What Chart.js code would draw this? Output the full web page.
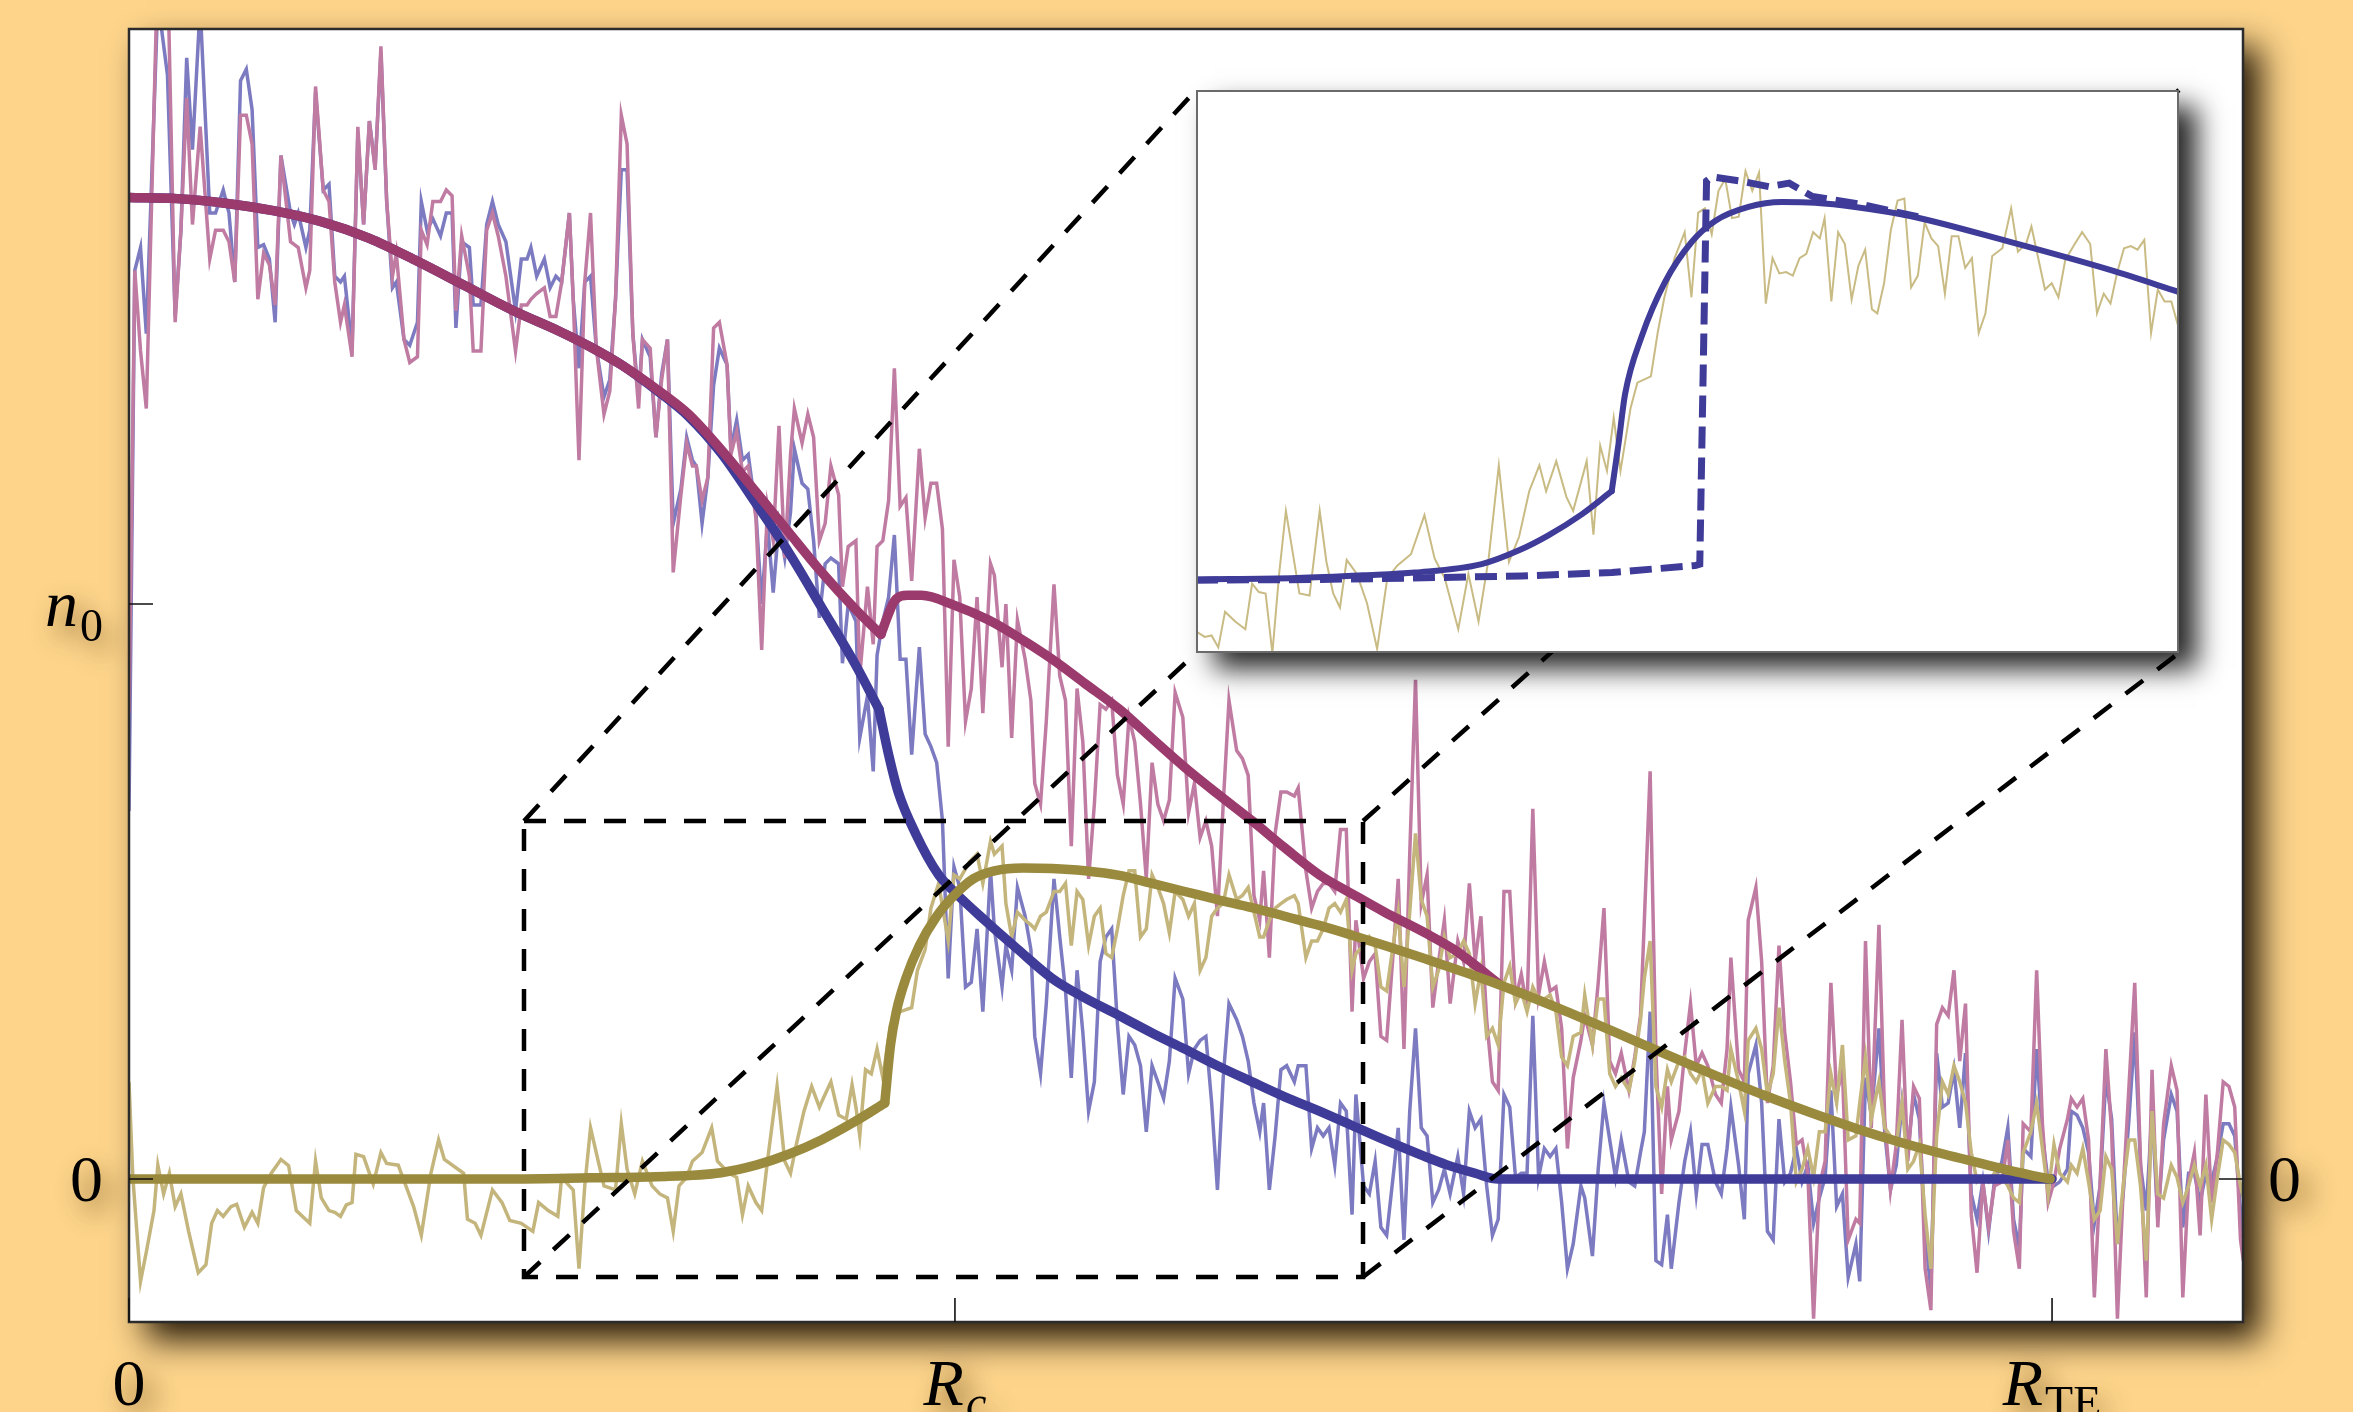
<!DOCTYPE html>
<html lang="en">
<head>
<meta charset="utf-8">
<title>Density profiles</title>
<script src="https://cdn.jsdelivr.net/npm/chart.js@4.4.1/dist/chart.umd.min.js"></script>
<style>
    html, body { margin: 0; padding: 0; background: #fdd48a; }
    #stage { position: relative; width: 2353px; height: 1412px; overflow: hidden; background: #fdd48a; }
    #mainChart { position: absolute; left: 0; top: 0; }
    #insetWrap { position: absolute; background: #fff; box-shadow: 18px 16px 26px rgba(0,0,0,0.85); }
    #insetChart { display: block; }
</style>
</head>
<body>
<div id="stage">
    <canvas id="mainChart" width="2353" height="1412"></canvas>
    <div id="insetWrap"><canvas id="insetChart"></canvas></div>
</div>
<script>
// radius in units of R_TE, densities in units of n0
const xTickValues = [0, 0.4295, 1];
const xTickLabels = ['0', 'R_c', 'R_TE'];
const yTickValues = [0, 1];
const yTickLabels = ['0', 'n_0'];
const rightTickValues = [0];
const rightTickLabels = ['0'];

const xRange = [0, 1.0993];
const yRange = [-0.2487, 2.0];
const zoomBoxX = [0.2054, 0.6417];
const zoomBoxY = [-0.1704, 0.6226];
const insetBoxX = [0.5549, 1.0660];
const insetBoxY = [0.9148, 1.8939];
const insetYRange = [-0.104, 0.700];

// smooth profiles (kink = index of the sharp corner near R_c)
const pinkCurveX = [0, 0.025, 0.05, 0.075, 0.10, 0.125, 0.15, 0.175, 0.20, 0.224, 0.24, 0.256, 0.275, 0.291, 0.308, 0.326, 0.343, 0.360, 0.378, 0.391, 0.395, 0.398, 0.405, 0.412, 0.429, 0.447, 0.462, 0.480, 0.497, 0.515, 0.532, 0.549, 0.566, 0.584, 0.601, 0.619, 0.636, 0.653, 0.674, 0.690, 0.712];
const pinkCurveY = [1.707, 1.705, 1.697, 1.684, 1.665, 1.636, 1.596, 1.553, 1.510, 1.474, 1.447, 1.416, 1.372, 1.330, 1.268, 1.195, 1.125, 1.056, 0.990, 0.947, 0.983, 1.005, 1.015, 1.015, 0.998, 0.972, 0.943, 0.904, 0.862, 0.817, 0.766, 0.716, 0.670, 0.623, 0.576, 0.529, 0.496, 0.464, 0.428, 0.397, 0.340];
const pinkKink = 19;

const blueCurveX = [0, 0.025, 0.05, 0.075, 0.10, 0.125, 0.15, 0.175, 0.20, 0.224, 0.24, 0.256, 0.275, 0.291, 0.308, 0.326, 0.343, 0.360, 0.378, 0.390, 0.395, 0.400, 0.409, 0.421, 0.429, 0.445, 0.462, 0.480, 0.497, 0.515, 0.532, 0.549, 0.566, 0.584, 0.601, 0.619, 0.636, 0.653, 0.674, 0.685, 0.700, 0.712, 1.0];
const blueCurveY = [1.707, 1.705, 1.697, 1.684, 1.665, 1.636, 1.596, 1.553, 1.510, 1.474, 1.447, 1.416, 1.370, 1.326, 1.262, 1.175, 1.090, 0.995, 0.893, 0.817, 0.738, 0.673, 0.601, 0.529, 0.500, 0.450, 0.400, 0.349, 0.315, 0.284, 0.254, 0.226, 0.197, 0.169, 0.143, 0.118, 0.093, 0.068, 0.039, 0.025, 0.010, 0.0, 0.0];
const blueKink = 19;

const oliveCurveX = [0, 0.20, 0.24, 0.274, 0.308, 0.326, 0.343, 0.360, 0.378, 0.393, 0.396, 0.399, 0.404, 0.411, 0.420, 0.429, 0.439, 0.450, 0.465, 0.480, 0.497, 0.515, 0.532, 0.549, 0.566, 0.584, 0.601, 0.619, 0.636, 0.655, 0.674, 0.695, 0.721, 0.747, 0.773, 0.799, 0.825, 0.850, 0.874, 0.898, 0.921, 0.944, 0.962, 0.979, 0.990, 0.999];
const oliveCurveY = [0, 0, 0.002, 0.004, 0.011, 0.024, 0.043, 0.068, 0.101, 0.132, 0.233, 0.291, 0.349, 0.406, 0.457, 0.493, 0.522, 0.536, 0.541, 0.540, 0.536, 0.528, 0.514, 0.500, 0.486, 0.472, 0.457, 0.441, 0.424, 0.404, 0.383, 0.359, 0.327, 0.292, 0.255, 0.217, 0.180, 0.146, 0.116, 0.088, 0.064, 0.043, 0.028, 0.014, 0.006, 0.0];
const oliveKink = 9;

// noisy simulation profiles (pink and blue share the sample positions)
const noiseX = [
    0.000, 0.003, 0.006, 0.009, 0.015, 0.020, 0.024, 0.027, 0.030, 0.033, 0.037, 0.042, 0.045, 0.049, 0.052, 0.055, 0.058, 0.061, 0.064, 0.067,
    0.070, 0.073, 0.076, 0.079, 0.084, 0.086, 0.088, 0.092, 0.094, 0.097, 0.101, 0.104, 0.107, 0.110, 0.112, 0.116, 0.119, 0.122, 0.125, 0.128,
    0.131, 0.134, 0.137, 0.139, 0.143, 0.146, 0.150, 0.152, 0.155, 0.158, 0.162, 0.165, 0.168, 0.170, 0.173, 0.177, 0.179, 0.183, 0.186, 0.189,
    0.192, 0.196, 0.201, 0.204, 0.207, 0.209, 0.212, 0.216, 0.219,
    0.222, 0.225, 0.229, 0.231, 0.234, 0.237, 0.240, 0.243, 0.247, 0.250, 0.253, 0.256, 0.259, 0.262, 0.265, 0.267, 0.271, 0.274, 0.277, 0.280,
    0.283, 0.287, 0.290, 0.293, 0.295, 0.298, 0.301, 0.304, 0.307, 0.311, 0.313, 0.316, 0.319, 0.322, 0.326, 0.329, 0.332, 0.335, 0.338, 0.341,
    0.344, 0.346, 0.350, 0.353, 0.356, 0.359, 0.362, 0.365, 0.369, 0.371, 0.374, 0.378, 0.380, 0.384, 0.387, 0.389, 0.392, 0.395, 0.398, 0.401,
    0.404, 0.407, 0.411, 0.414, 0.417, 0.420, 0.423, 0.426, 0.429, 0.432, 0.435, 0.438, 0.441, 0.444,
    0.448, 0.450, 0.454, 0.456, 0.459, 0.462, 0.466, 0.469, 0.471, 0.474, 0.477, 0.481, 0.484, 0.487, 0.490, 0.493, 0.496, 0.499, 0.502, 0.505,
    0.508, 0.511, 0.514, 0.517, 0.520, 0.523, 0.526, 0.529, 0.532, 0.535, 0.538, 0.541, 0.544, 0.548, 0.551, 0.554, 0.557, 0.560, 0.563, 0.566,
    0.569, 0.572, 0.576, 0.579, 0.582, 0.585, 0.588, 0.590, 0.593, 0.596, 0.599, 0.602, 0.606, 0.608, 0.612, 0.615, 0.618, 0.621, 0.624, 0.627,
    0.630, 0.633, 0.636, 0.638, 0.642, 0.645, 0.648, 0.651, 0.654, 0.658, 0.660, 0.663, 0.666, 0.669, 0.672,
    0.675, 0.678, 0.681, 0.684, 0.687, 0.691, 0.694, 0.697, 0.700, 0.703, 0.706, 0.709, 0.712, 0.715, 0.718, 0.721, 0.724, 0.727, 0.730, 0.733,
    0.736, 0.739, 0.742, 0.745, 0.748, 0.751, 0.755, 0.757, 0.761, 0.764, 0.767, 0.770, 0.773, 0.776, 0.780, 0.783, 0.786, 0.788, 0.791, 0.794,
    0.797, 0.800, 0.802, 0.806, 0.809, 0.812, 0.815, 0.818, 0.821, 0.825, 0.828, 0.831, 0.833, 0.837, 0.840, 0.842, 0.846, 0.849, 0.852, 0.855,
    0.858, 0.861, 0.864, 0.867, 0.870, 0.873, 0.876, 0.879, 0.882, 0.885, 0.888, 0.891, 0.894,
    0.898, 0.900, 0.903, 0.906, 0.910, 0.913, 0.916, 0.919, 0.922, 0.925, 0.928, 0.931, 0.934, 0.937, 0.940, 0.943, 0.946, 0.949, 0.952, 0.955,
    0.958, 0.961, 0.964, 0.967, 0.970, 0.974, 0.977, 0.980, 0.983, 0.985, 0.989, 0.992, 0.995, 0.998, 1.001, 1.004, 1.008, 1.010, 1.013, 1.016,
    1.019, 1.022, 1.025, 1.028, 1.031, 1.034, 1.037, 1.040, 1.043, 1.046, 1.049, 1.052, 1.055, 1.058, 1.062, 1.065, 1.068, 1.071, 1.074, 1.077,
    1.080, 1.083, 1.086, 1.089, 1.092, 1.095, 1.098, 1.0995
];

const pinkNoise = [
    0.81, 1.58, 1.44, 1.34, 2.12, 2.12, 1.49, 1.65, 1.88, 1.66, 1.83, 1.60, 1.65, 1.65, 1.63, 1.56, 1.85, 1.85, 1.80, 1.53,
    1.61, 1.59, 1.52, 1.78, 1.63, 1.625, 1.62, 1.55, 1.58, 1.90, 1.72, 1.70, 1.56, 1.49, 1.52, 1.43, 1.83, 1.66, 1.84, 1.755,
    1.97, 1.70, 1.57, 1.61, 1.46, 1.42, 1.43, 1.65, 1.625, 1.70, 1.70, 1.72, 1.71, 1.51, 1.64, 1.57, 1.44, 1.44, 1.65, 1.68,
    1.64, 1.57, 1.44, 1.52, 1.52, 1.53, 1.54, 1.55, 1.50,
    1.50, 1.56, 1.68, 1.53, 1.25, 1.56, 1.68, 1.445, 1.33, 1.37, 1.53, 1.85, 1.80, 1.47, 1.34, 1.46, 1.445, 1.29, 1.39, 1.46,
    1.055, 1.19, 1.28, 1.24, 1.24, 1.18, 1.22, 1.48, 1.49, 1.416, 1.26, 1.30, 1.23, 1.24, 1.15, 0.92, 1.17, 1.11, 1.31, 1.08,
    1.26, 1.34, 1.28, 1.33, 1.29, 1.11, 1.14, 1.24, 1.19, 1.03, 1.10, 1.11, 0.875, 1.03, 0.93, 1.10, 1.11, 1.18, 1.41, 1.17,
    1.185, 1.04, 1.27, 1.15, 1.21, 1.21, 1.13, 0.752, 1.077, 1.012, 0.796, 0.853, 1.012, 0.81,
    1.07, 1.05, 0.89, 1.00, 0.767, 0.972, 0.904, 0.832, 0.688, 0.652, 0.796, 1.034, 0.875, 0.832, 0.579, 0.853, 0.760, 0.522, 0.652, 0.825,
    0.817, 0.832, 0.702, 0.652, 0.803, 0.760, 0.652, 0.522, 0.724, 0.652, 0.623, 0.659, 0.846, 0.803, 0.637, 0.688, 0.594, 0.623, 0.579, 0.457,
    0.652, 0.832, 0.745, 0.731, 0.702, 0.493, 0.450, 0.536, 0.385, 0.601, 0.673, 0.673, 0.666, 0.680, 0.536, 0.471, 0.500, 0.514, 0.514, 0.500,
    0.608, 0.608, 0.291, 0.450, 0.349, 0.378, 0.392, 0.248, 0.241, 0.421, 0.522, 0.226, 0.565, 0.868, 0.479,
    0.529, 0.298, 0.378, 0.450, 0.305, 0.414, 0.378, 0.514, 0.378, 0.457, 0.277, 0.169, 0.154, 0.500, 0.500, 0.313, 0.356, 0.298, 0.644, 0.320,
    0.378, 0.327, 0.334, 0.262, 0.053, 0.176, 0.241, 0.284, 0.233, 0.341, 0.471, 0.205, 0.183, 0.219, 0.154, 0.212, 0.284, 0.45, 0.709, 0.219,
    -0.026, 0.161, 0.068, 0.118, 0.219, 0.305, 0.197, 0.219, 0.197, 0.147, 0.132, 0.226, 0.385, 0.190, 0.169, 0.450, 0.507, 0.378, 0.132, 0.197,
    0.406, 0.255, 0.169, 0.060, 0.068, 0.010, -0.243, -0.012, 0.031, 0.341, 0.147, 0.190, -0.106,
    -0.070, -0.077, 0.414, 0.089, 0.442, 0.104, -0.019, 0.060, 0.277, 0.031, 0.161, 0.140, -0.156, -0.228, 0.269, 0.298, 0.284, 0.363, 0.205, 0.305,
    -0.062, -0.163, -0.005, -0.084, -0.012, -0.005, 0.068, -0.091, -0.156, 0.096, 0.082, 0.363, 0.096, -0.041, -0.005, 0.053, 0.104, 0.140, 0.125, 0.140,
    0.068, -0.206, -0.005, 0.226, 0.082, -0.243, -0.019, 0.161, 0.341, 0.031, -0.206, 0.190, -0.084, 0.096, 0.197, 0.154, -0.206, -0.005, 0.046, -0.098,
    0.147, -0.041, 0.046, 0.169, 0.161, 0.125, -0.106, -0.142
];

const blueNoise = [
    0.64, 1.58, 1.62, 1.47, 2.05, 1.92, 1.50, 1.65, 1.95, 1.79, 2.04, 1.68, 1.68, 1.72, 1.68, 1.56, 1.91, 1.93, 1.86, 1.62,
    1.625, 1.60, 1.49, 1.78, 1.68, 1.66, 1.68, 1.62, 1.65, 1.89, 1.72, 1.73, 1.57, 1.56, 1.57, 1.445, 1.82, 1.66, 1.84, 1.76,
    1.96, 1.70, 1.55, 1.56, 1.46, 1.45, 1.49, 1.70, 1.65, 1.67, 1.64, 1.68, 1.68, 1.48, 1.63, 1.62, 1.52, 1.52, 1.66, 1.70,
    1.66, 1.63, 1.51, 1.60, 1.60, 1.62, 1.57, 1.60, 1.55,
    1.57, 1.56, 1.68, 1.53, 1.41, 1.56, 1.57, 1.445, 1.36, 1.39, 1.53, 1.755, 1.755, 1.47, 1.36, 1.46, 1.43, 1.29, 1.40, 1.46,
    1.14, 1.20, 1.29, 1.25, 1.24, 1.14, 1.22, 1.38, 1.445, 1.416, 1.27, 1.32, 1.25, 1.26, 1.16, 1.00, 1.14, 1.02, 1.14, 1.08,
    1.16, 1.27, 1.21, 1.20, 1.11, 0.976, 1.07, 1.08, 1.07, 0.897, 1.00, 0.97, 0.767, 0.84, 0.709, 0.911, 0.97, 1.012, 1.12, 0.904,
    0.904, 0.738, 0.925, 0.774, 0.752, 0.724, 0.623, 0.349, 0.543, 0.507, 0.334, 0.342, 0.435, 0.291,
    0.536, 0.435, 0.334, 0.406, 0.363, 0.507, 0.457, 0.399, 0.248, 0.183, 0.305, 0.522, 0.421, 0.327, 0.176, 0.363, 0.255, 0.118, 0.169, 0.378,
    0.421, 0.435, 0.269, 0.147, 0.248, 0.233, 0.197, 0.082, 0.197, 0.169, 0.140, 0.205, 0.349, 0.313, 0.183, 0.226, 0.241, 0.248, 0.132, -0.019,
    0.176, 0.305, 0.277, 0.248, 0.205, 0.132, 0.082, 0.132, -0.019, 0.075, 0.190, 0.197, 0.169, 0.197, 0.197, 0.053, 0.089, 0.075, 0.089, 0.024,
    0.132, 0.118, -0.062, 0.147, -0.012, -0.026, 0.031, -0.084, -0.098, 0.024, 0.089, -0.106, 0.118, 0.262, 0.089,
    0.075, -0.041, -0.019, 0.017, -0.026, 0.039, -0.026, 0.118, 0.089, 0.104, -0.012, -0.098, -0.070, 0.147, 0.125, 0.003, 0.010, 0.010, 0.284, 0.003,
    0.053, 0.039, 0.053, -0.041, -0.156, -0.113, -0.012, -0.033, -0.134, 0.017, 0.132, 0.068, 0.003, 0.068, -0.005, -0.012, 0.046, 0.082, 0.291, -0.142,
    -0.149, -0.062, -0.156, -0.041, 0.031, 0.082, -0.026, 0.060, 0.060, -0.005, -0.026, 0.053, 0.125, 0.024, -0.070, 0.183, 0.233, 0.132, -0.091, -0.106,
    0.104, -0.005, 0.010, 0.053, -0.005, 0.024, -0.077, -0.033, 0.003, 0.154, -0.048, -0.026, -0.171,
    -0.113, -0.178, 0.176, 0.111, 0.262, 0.082, -0.019, 0.024, 0.132, 0.046, 0.147, 0.104, -0.098, -0.192, 0.219, 0.125, 0.132, 0.190, 0.089, 0.219,
    -0.026, -0.070, -0.005, -0.091, -0.005, 0.031, 0.089, -0.070, -0.120, 0.053, 0.039, 0.226, 0.075, -0.005, -0.012, -0.005, 0.017, 0.118, 0.111, 0.089,
    0.046, -0.077, -0.012, 0.176, 0.104, -0.113, -0.026, 0.104, 0.255, 0.024, -0.055, 0.118, -0.070, 0.068, 0.147, 0.118, -0.084, 0.010, 0.010, -0.041,
    0.010, -0.005, 0.039, 0.096, 0.096, 0.075, -0.055, -0.098
];

// olive noise: own samples inside the core, shared samples (noiseX >= 0.447) outside
const oliveInnerX = [
    0.000, 0.002, 0.006, 0.009, 0.013, 0.015, 0.018, 0.021, 0.024, 0.027, 0.031, 0.036, 0.040, 0.043, 0.046, 0.049, 0.053, 0.056, 0.060, 0.064,
    0.067, 0.070, 0.074, 0.079, 0.083, 0.087, 0.094, 0.097, 0.100, 0.104, 0.107, 0.110, 0.113, 0.116, 0.118, 0.122, 0.127, 0.131, 0.134, 0.140,
    0.144, 0.148, 0.152, 0.157, 0.161, 0.164, 0.174, 0.176, 0.180, 0.183, 0.189, 0.194, 0.198, 0.204, 0.210, 0.213, 0.218, 0.223,
    0.225, 0.229, 0.231, 0.234, 0.237, 0.240, 0.244, 0.247, 0.253, 0.256, 0.259, 0.263, 0.267, 0.272, 0.276, 0.280, 0.283, 0.286, 0.290, 0.293,
    0.298, 0.303, 0.306, 0.312, 0.316, 0.319, 0.322, 0.326, 0.329, 0.332, 0.337, 0.341, 0.344, 0.347, 0.351, 0.355, 0.359, 0.361, 0.365, 0.369,
    0.373, 0.376, 0.378, 0.380, 0.383, 0.386, 0.389, 0.392, 0.396, 0.401, 0.407, 0.410, 0.414, 0.417, 0.421, 0.426, 0.429, 0.432, 0.437, 0.441, 0.444
];
const oliveInnerY = [
    0.168, 0.003, -0.178, -0.127, -0.055, 0.024, -0.026, 0.010, -0.048, -0.026, -0.091, -0.163, -0.149, -0.077, -0.055, -0.065, -0.048, -0.044, -0.084, -0.058,
    -0.077, -0.015, 0.010, 0.034, 0.023, -0.055, -0.077, 0.031, -0.033, -0.055, -0.058, -0.065, -0.045, -0.041, 0.043, 0.039, -0.009, 0.046, 0.027, 0.024,
    -0.012, -0.048, -0.098, 0.010, 0.068, 0.034, 0.010, -0.070, -0.077, -0.098, -0.019, -0.041, -0.072, -0.077, -0.091, -0.041, -0.055, -0.065,
    0.003, -0.012, -0.019, -0.156, -0.012, 0.089, 0.031, -0.012, -0.019, 0.096, 0.017, -0.026, 0.031, -0.012, -0.026, -0.033, -0.091, -0.012, 0.003, 0.031,
    0.046, 0.089, 0.031, 0.010, 0.003, -0.062, -0.012, -0.041, -0.055, 0.031, 0.161, 0.031, 0.010, 0.060, 0.118, 0.161, 0.125, 0.140, 0.169, 0.111,
    0.104, 0.164, 0.125, 0.075, 0.190, 0.183, 0.226, 0.176, 0.269, 0.291, 0.298, 0.363, 0.399, 0.471, 0.514, 0.414, 0.529, 0.522, 0.551, 0.565, 0.514
];
const oliveOuterY = [
    0.587, 0.565, 0.579, 0.479, 0.421, 0.464, 0.450, 0.442, 0.435, 0.457, 0.464, 0.500, 0.500, 0.514, 0.406, 0.500, 0.486, 0.406, 0.457, 0.471,
    0.392, 0.385, 0.435, 0.493, 0.536, 0.536, 0.421, 0.435, 0.529, 0.507, 0.479, 0.428, 0.500, 0.486, 0.457, 0.479, 0.363, 0.385, 0.457, 0.471,
    0.479, 0.529, 0.486, 0.493, 0.507, 0.464, 0.421, 0.421, 0.450, 0.471, 0.479, 0.486, 0.493, 0.479, 0.385, 0.414, 0.414, 0.435, 0.471, 0.479,
    0.464, 0.486, 0.363, 0.392, 0.406, 0.421, 0.406, 0.334, 0.327, 0.421, 0.464, 0.334, 0.464, 0.601, 0.486,
    0.457, 0.334, 0.363, 0.421, 0.385, 0.392, 0.414, 0.392, 0.305, 0.363, 0.248, 0.262, 0.233, 0.341, 0.370, 0.305, 0.327, 0.291, 0.334, 0.313,
    0.313, 0.320, 0.291, 0.212, 0.197, 0.248, 0.255, 0.320, 0.233, 0.313, 0.313, 0.183, 0.161, 0.176, 0.154, 0.205, 0.277, 0.349, 0.414, 0.161,
    0.125, 0.190, 0.169, 0.205, 0.212, 0.183, 0.169, 0.190, 0.132, 0.161, 0.161, 0.154, 0.226, 0.169, 0.118, 0.241, 0.262, 0.226, 0.147, 0.183,
    0.298, 0.205, 0.132, -0.005, 0.017, 0.053, 0.003, 0.082, 0.082, 0.183, 0.132, 0.233, 0.068,
    0.075, 0.132, 0.212, 0.104, 0.169, 0.089, 0.075, 0.060, 0.132, 0.017, 0.031, 0.060, -0.062, -0.156, 0.075, 0.169, 0.147, 0.197, 0.169, 0.132,
    0.046, -0.005, 0.003, -0.005, 0.010, 0.003, -0.012, -0.033, -0.041, 0.046, 0.082, 0.132, 0.053, -0.026, 0.060, 0.010, -0.005, 0.024, 0.010, 0.053,
    -0.005, -0.070, -0.055, 0.039, 0.017, -0.113, -0.012, 0.068, 0.068, -0.012, -0.142, 0.118, -0.026, -0.033, 0.024, 0.003, -0.041, -0.012, 0.024, -0.012,
    0.024, -0.070, 0.003, 0.068, 0.060, 0.046, -0.012, -0.033
];

// inset (zoom on the olive component)
const insetSolidX = [0.2054, 0.25, 0.28, 0.3026, 0.3322, 0.3490, 0.3618, 0.3766, 0.3899, 0.3929, 0.3958, 0.4032, 0.4136, 0.4254, 0.4358, 0.4506, 0.4654, 0.4801, 0.4979, 0.5223, 0.5667, 0.6111, 0.6422];
const insetSolidY = [0.001, 0.003, 0.007, 0.011, 0.023, 0.043, 0.064, 0.094, 0.127, 0.194, 0.265, 0.348, 0.426, 0.483, 0.513, 0.533, 0.540, 0.539, 0.533, 0.520, 0.483, 0.443, 0.411];
const insetSolidKink = 8;
const insetDashedX = [0.2054, 0.26, 0.30, 0.35, 0.39, 0.427, 0.429, 0.432, 0.4343, 0.447, 0.4597, 0.4687, 0.479, 0.50, 0.5288];
const insetDashedY = [0.000, 0.001, 0.003, 0.006, 0.011, 0.021, 0.023, 0.570, 0.576, 0.570, 0.562, 0.567, 0.548, 0.537, 0.517];
const insetNoiseX = [
    0.2054, 0.2093, 0.2123, 0.2153, 0.2183, 0.2228, 0.2273, 0.2303, 0.2333, 0.2363, 0.2393, 0.2423, 0.2453, 0.2513, 0.2558, 0.2603, 0.2633, 0.2663, 0.2693, 0.2723,
    0.2768, 0.2813, 0.2858, 0.2903, 0.2948, 0.3008, 0.3068, 0.3113, 0.3158, 0.3218, 0.3263, 0.3308, 0.3353, 0.3398, 0.3443, 0.3488, 0.3533, 0.3578, 0.3608, 0.3653,
    0.3698, 0.3728, 0.3788, 0.3818, 0.3848, 0.3878, 0.3908, 0.3938, 0.3983, 0.4013, 0.4073, 0.4103, 0.4133, 0.4178, 0.4223, 0.4253, 0.4283, 0.4313, 0.4343, 0.4373,
    0.4403, 0.4433, 0.4463, 0.4493, 0.4523, 0.4553, 0.4583, 0.4613, 0.4643, 0.4673, 0.4703, 0.4733, 0.4763, 0.4793, 0.4823, 0.4844, 0.4874, 0.4904, 0.4934, 0.4964,
    0.4994, 0.5024, 0.5054, 0.5078, 0.5108, 0.5138, 0.5168, 0.5198, 0.5228, 0.5258, 0.5288, 0.5318, 0.5348, 0.5378, 0.5408, 0.5438, 0.5468, 0.5498, 0.5528, 0.5558,
    0.5588, 0.5633, 0.5672, 0.5702, 0.5738, 0.5762, 0.5792, 0.5822, 0.5852, 0.5882, 0.5912, 0.5948, 0.5987, 0.6023, 0.6053, 0.6083, 0.6113, 0.6143, 0.6173, 0.6203,
    0.6233, 0.6263, 0.6293, 0.6323, 0.6353, 0.6383, 0.6422
];
const insetNoiseY = [
    -0.073, -0.081, -0.079, -0.096, -0.045, -0.059, -0.070, -0.005, -0.017, -0.019, -0.104, 0.009, 0.099, -0.019, -0.022, 0.099, 0.026, -0.019, -0.039, 0.029,
    0.009, -0.033, -0.098, 0.003, 0.021, 0.037, 0.093, 0.031, 0.003, -0.070, 0.009, -0.059, 0.031, 0.164, 0.026, 0.062, 0.127, 0.164, 0.127, 0.170,
    0.119, 0.099, 0.170, 0.065, 0.192, 0.156, 0.232, 0.156, 0.246, 0.282, 0.291, 0.353, 0.404, 0.460, 0.497, 0.404, 0.525, 0.531, 0.494, 0.556,
    0.573, 0.517, 0.519, 0.584, 0.556, 0.582, 0.395, 0.460, 0.438, 0.440, 0.435, 0.460, 0.466, 0.497, 0.488, 0.517, 0.398, 0.497, 0.480, 0.401,
    0.449, 0.472, 0.387, 0.381, 0.424, 0.500, 0.542, 0.545, 0.418, 0.435, 0.511, 0.488, 0.477, 0.409, 0.491, 0.491, 0.446, 0.460, 0.353, 0.381,
    0.463, 0.474, 0.531, 0.469, 0.480, 0.505, 0.460, 0.415, 0.424, 0.404, 0.457, 0.477, 0.497, 0.480, 0.381, 0.409, 0.395, 0.440, 0.474, 0.477,
    0.472, 0.486, 0.353, 0.415, 0.398, 0.398, 0.353
];

const COLORS = {
    pink: '#9b3a6d', blue: '#3f3b98', olive: '#9a8a3d',
    pinkNoise: '#c07ba2', blueNoise: '#7c7ac0', oliveNoise: '#c4b57c', insetNoise: '#c9bb84'
};
const SERIF = '"Liberation Serif", "DejaVu Serif", serif';

const pts = (xs, ys) => xs.map((x, i) => ({ x, y: ys[i] }));
const lineDs = (data, color, width, order, extra = {}) => ({
    data, borderColor: color, borderWidth: width, pointRadius: 0, fill: false,
    tension: 0, clip: 0, order, ...extra
});
// a profile with one sharp corner: two smooth pieces meeting at the kink
const curveDs = (xs, ys, kink, color, width, order) => {
    const smooth = { cubicInterpolationMode: 'monotone', borderCapStyle: 'round' };
    return [
        lineDs(pts(xs.slice(0, kink + 1), ys.slice(0, kink + 1)), color, width, order, smooth),
        lineDs(pts(xs.slice(kink), ys.slice(kink)), color, width, order, smooth)
    ];
};

function drawLabel(ctx, label, x, y, align, subDrop) {
    const [base, sub] = label.split('_');
    const baseFont = (/[A-Za-z]/.test(base) ? 'italic ' : '') + '66px ' + SERIF;
    const subFont = (sub && /^[a-z]+$/.test(sub) ? 'italic ' : '') + '46px ' + SERIF;
    ctx.font = baseFont;
    const wBase = ctx.measureText(base).width;
    let wSub = 0;
    if (sub) { ctx.font = subFont; wSub = ctx.measureText(sub).width + 2; }
    const total = wBase + wSub;
    const x0 = align === 'center' ? x - total / 2 : align === 'right' ? x - total : x;
    ctx.textAlign = 'left';
    ctx.textBaseline = 'alphabetic';
    ctx.font = baseFont;
    ctx.fillText(base, x0, y);
    if (sub) { ctx.font = subFont; ctx.fillText(sub, x0 + wBase + 2, y + subDrop); }
}

const mainDecor = {
    id: 'mainDecor',
    beforeDraw(chart) {
        const { ctx, chartArea: a } = chart;
        ctx.save();
        ctx.shadowColor = 'rgba(25,15,0,0.95)';
        ctx.shadowBlur = 32;
        ctx.shadowOffsetX = 17;
        ctx.shadowOffsetY = 18;
        ctx.fillStyle = '#ffffff';
        ctx.fillRect(a.left, a.top, a.right - a.left, a.bottom - a.top);
        ctx.restore();
    },
    afterDatasetsDraw(chart) {
        const { ctx, chartArea: a, scales: { x, y } } = chart;
        ctx.save();
        ctx.strokeStyle = '#2b2b2b';
        ctx.lineWidth = 2.5;
        ctx.strokeRect(a.left, a.top, a.right - a.left, a.bottom - a.top);

        ctx.strokeStyle = '#111';
        ctx.lineWidth = 1.6;
        ctx.beginPath();
        yTickValues.forEach(v => { const py = y.getPixelForValue(v); ctx.moveTo(a.left, py); ctx.lineTo(a.left + 24, py); });
        rightTickValues.forEach(v => { const py = y.getPixelForValue(v); ctx.moveTo(a.right - 24, py); ctx.lineTo(a.right, py); });
        xTickValues.forEach(v => { const px = x.getPixelForValue(v); ctx.moveTo(px, a.bottom); ctx.lineTo(px, a.bottom - 24); });
        ctx.stroke();

        ctx.fillStyle = '#000';
        ctx.shadowColor = 'rgba(70,45,0,0.7)';
        ctx.shadowBlur = 24;
        ctx.shadowOffsetX = 10;
        ctx.shadowOffsetY = 12;
        yTickValues.forEach((v, i) => drawLabel(ctx, yTickLabels[i], a.left - 26, y.getPixelForValue(v) + 22, 'right', 15));
        rightTickValues.forEach((v, i) => drawLabel(ctx, rightTickLabels[i], a.right + 25, y.getPixelForValue(v) + 22, 'left', 15));
        xTickValues.forEach((v, i) => drawLabel(ctx, xTickLabels[i], x.getPixelForValue(v), a.bottom + 83, 'center', 13));
        ctx.restore();
    }
};

// dashed zoom box and its connectors to the inset corners
const boxPts = [
    { x: zoomBoxX[0], y: zoomBoxY[1] }, { x: zoomBoxX[1], y: zoomBoxY[1] },
    { x: zoomBoxX[1], y: zoomBoxY[0] }, { x: zoomBoxX[0], y: zoomBoxY[0] },
    { x: zoomBoxX[0], y: zoomBoxY[1] }
];
const connectorPts = [];
[[0, 1], [0, 0], [1, 1], [1, 0]].forEach(([i, j]) => {
    connectorPts.push({ x: zoomBoxX[i], y: zoomBoxY[j] }, { x: insetBoxX[i], y: insetBoxY[j] }, { x: insetBoxX[i], y: null });
});

const outerX = noiseX.filter(v => v >= 0.447);
const olivePts = pts(oliveInnerX, oliveInnerY).concat(pts(outerX, oliveOuterY));

const mainChart = new Chart(document.getElementById('mainChart'), {
    type: 'line',
    data: {
        datasets: [
            lineDs(boxPts, '#000', 4.5, 0, { borderDash: [22, 18] }),
            lineDs(connectorPts, '#000', 4.5, 0, { borderDash: [22, 18], spanGaps: false }),
            ...curveDs(oliveCurveX, oliveCurveY, oliveKink, COLORS.olive, 9.5, 1),
            ...curveDs(pinkCurveX, pinkCurveY, pinkKink, COLORS.pink, 9.5, 2),
            ...curveDs(blueCurveX, blueCurveY, blueKink, COLORS.blue, 9.5, 3),
            lineDs(olivePts, COLORS.oliveNoise, 3.5, 4),
            lineDs(pts(noiseX, pinkNoise), COLORS.pinkNoise, 3.5, 5),
            lineDs(pts(noiseX, blueNoise), COLORS.blueNoise, 3.5, 6)
        ]
    },
    options: {
        responsive: false, animation: false, devicePixelRatio: 1,
        layout: { padding: { left: 129, top: 29, right: 110, bottom: 90 } },
        plugins: { legend: { display: false }, tooltip: { enabled: false } },
        scales: {
            x: { type: 'linear', min: xRange[0], max: xRange[1], display: false },
            y: { type: 'linear', min: yRange[0], max: yRange[1], display: false }
        }
    },
    plugins: [mainDecor]
});

// place the inset from the main chart's own scales
const sx = mainChart.scales.x, sy = mainChart.scales.y;
const insetLeft = Math.round(sx.getPixelForValue(insetBoxX[0]));
const insetRight = Math.round(sx.getPixelForValue(insetBoxX[1]));
const insetTop = Math.round(sy.getPixelForValue(insetBoxY[1]));
const insetBottom = Math.round(sy.getPixelForValue(insetBoxY[0]));
const wrap = document.getElementById('insetWrap');
wrap.style.left = insetLeft + 'px';
wrap.style.top = insetTop + 'px';
wrap.style.width = (insetRight - insetLeft) + 'px';
wrap.style.height = (insetBottom - insetTop) + 'px';
const insetCanvas = document.getElementById('insetChart');
insetCanvas.width = insetRight - insetLeft;
insetCanvas.height = insetBottom - insetTop;

const insetFrame = {
    id: 'insetFrame',
    afterDraw(chart) {
        const { ctx, width, height } = chart;
        ctx.save();
        ctx.strokeStyle = '#6a6a6a';
        ctx.lineWidth = 2;
        ctx.strokeRect(1, 1, width - 2, height - 2);
        ctx.restore();
    }
};

new Chart(insetCanvas, {
    type: 'line',
    data: {
        datasets: [
            lineDs(pts(insetDashedX, insetDashedY), COLORS.blue, 7, 0, { borderDash: [22, 9] }),
            ...curveDs(insetSolidX, insetSolidY, insetSolidKink, COLORS.blue, 6, 1),
            lineDs(pts(insetNoiseX, insetNoiseY), COLORS.insetNoise, 2, 2)
        ]
    },
    options: {
        responsive: false, animation: false, devicePixelRatio: 1,
        layout: { padding: 0 },
        plugins: { legend: { display: false }, tooltip: { enabled: false } },
        scales: {
            x: { type: 'linear', min: zoomBoxX[0], max: zoomBoxX[1], display: false },
            y: { type: 'linear', min: insetYRange[0], max: insetYRange[1], display: false }
        }
    },
    plugins: [insetFrame]
});
</script>
</body>
</html>
